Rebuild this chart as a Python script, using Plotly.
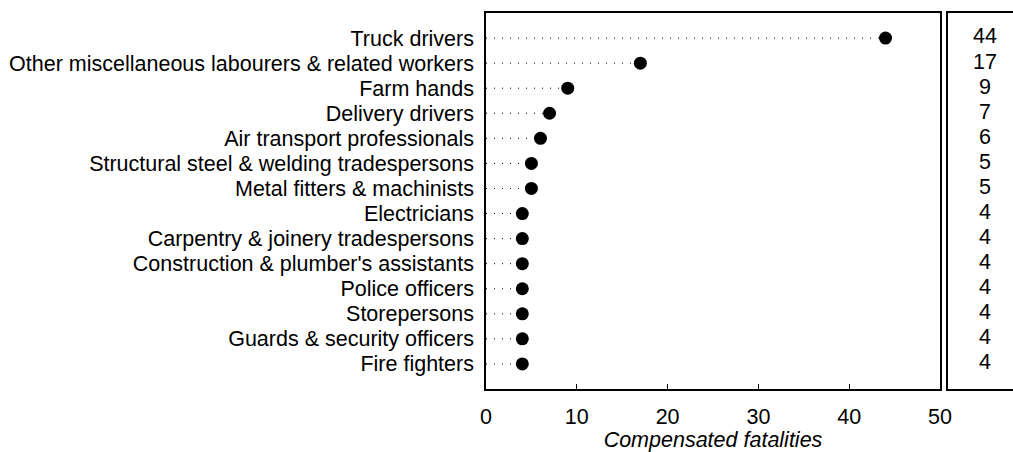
import plotly.graph_objects as go

occupations = [
    "Truck drivers",
    "Other miscellaneous labourers & related workers",
    "Farm hands",
    "Delivery drivers",
    "Air transport professionals",
    "Structural steel & welding tradespersons",
    "Metal fitters & machinists",
    "Electricians",
    "Carpentry & joinery tradespersons",
    "Construction & plumber's assistants",
    "Police officers",
    "Storepersons",
    "Guards & security officers",
    "Fire fighters",
]
fatalities = [44, 17, 9, 7, 6, 5, 5, 4, 4, 4, 4, 4, 4, 4]
x_ticks = [0, 10, 20, 30, 40, 50]

W, H = 1013, 452
FONT = "Liberation Sans, Arial, sans-serif"
FS = 21.5

# dotted leader lines from 0 to each value
lx, ly = [], []
for occ, v in zip(occupations, fatalities):
    lx += [0, v, None]
    ly += [occ, occ, None]

fig = go.Figure()
fig.add_trace(go.Scatter(x=lx, y=ly, mode="lines",
                         line=dict(color="black", width=1, dash="1px,7px"),
                         hoverinfo="skip", showlegend=False))
fig.add_trace(go.Scatter(x=fatalities, y=occupations, mode="markers",
                         marker=dict(color="black", size=13),
                         showlegend=False))
fig.add_trace(go.Scatter(x=[0.57] * len(occupations), y=occupations,
                         text=[str(v) for v in fatalities], mode="text",
                         textfont=dict(family=FONT, size=FS, color="black"),
                         xaxis="x2", yaxis="y2", showlegend=False))

fig.update_layout(
    width=W, height=H,
    margin=dict(l=0, r=0, t=13, b=63),
    plot_bgcolor="white", paper_bgcolor="white",
    font=dict(family=FONT, size=FS, color="black"),
    xaxis=dict(domain=[486 / W, 940 / W], range=[0, 50], tickvals=x_ticks,
               showgrid=False, zeroline=False, showline=True, mirror=True,
               linecolor="black", linewidth=1.5, ticks="inside", ticklen=5,
               tickwidth=1, tickcolor="black", ticklabelstandoff=7,
               title=dict(text="Compensated fatalities",
                          font=dict(family=FONT, size=FS, style="italic"),
                          standoff=6),
               automargin=False),
    yaxis=dict(type="category", categoryarray=occupations, range=[14, -1],
               tickmode="array", tickvals=occupations,
               showgrid=False, zeroline=False, showline=True, mirror=True,
               linecolor="black", linewidth=1.5, ticks="", ticklabelstandoff=6,
               automargin=False),
    xaxis2=dict(domain=[948 / W, 1.0], range=[0, 1], showticklabels=False,
                showgrid=False, zeroline=False, showline=True, mirror=True,
                linecolor="black", linewidth=1.5, ticks="", anchor="y2"),
    yaxis2=dict(type="category", categoryarray=occupations, range=[14, -1],
                matches="y", showticklabels=False, showgrid=False,
                zeroline=False, showline=True, mirror=False,
                linecolor="black", linewidth=1.5, ticks="", anchor="x2"),
)

fig.write_html("out.html", config={"displayModeBar": False},
               post_script="document.body.style.margin='0px';")
